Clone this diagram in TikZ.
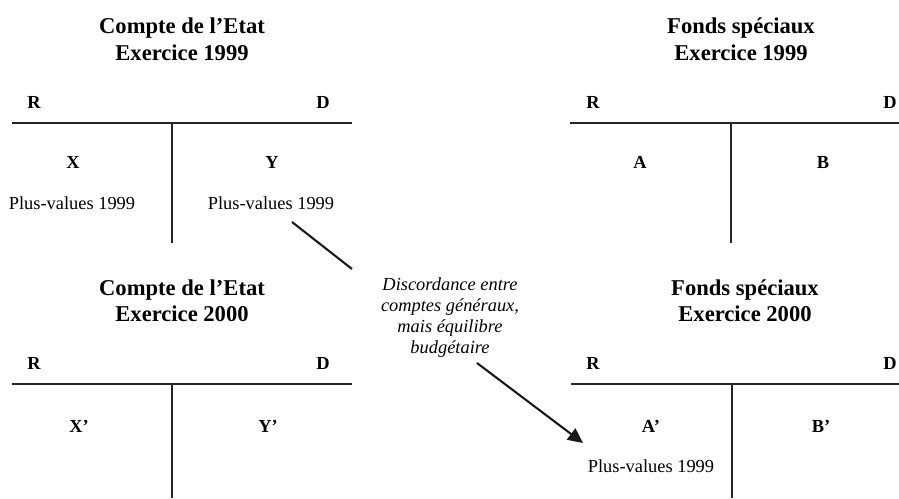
\documentclass[tikz,border=0pt]{standalone}
\usepackage{fontspec}
\setmainfont{Liberation Serif}
\usetikzlibrary{arrows.meta}
\tikzset{
  ttl/.style={anchor=base,inner sep=0pt,font=\fontsize{22.6}{26}\selectfont\bfseries},
  lab/.style={anchor=base,inner sep=0pt,font=\fontsize{18.4}{21}\selectfont\bfseries},
  txt/.style={anchor=base,inner sep=0pt,font=\fontsize{18.4}{21}\selectfont},
  itx/.style={anchor=base,inner sep=0pt,font=\fontsize{18.4}{21}\selectfont\itshape},
  rule/.style={line width=1.6pt,black!85},
  conn/.style={line width=2.1pt,black!90},
}
\begin{document}
\begin{tikzpicture}[x=1pt,y=-1pt]
\useasboundingbox (0,0) rectangle (899,498);
% ---- top left: Compte de l'Etat 1999
\node[ttl] (t1a) at (182,33) {Compte de l’Etat};
\node[ttl] (t1b) at (182,60) {Exercice 1999};
\node[lab] (r1) at (34,108) {R};
\node[lab] (d1) at (323,108) {D};
\draw[rule] (12,123) coordinate (h1a) -- (352,123) coordinate (h1b);
\draw[rule] (172,123) coordinate (v1a) -- (172,243) coordinate (v1b);
\node[lab] (x1) at (73,168) {X};
\node[lab] (y1) at (272,168) {Y};
\node[txt] (pv1) at (72,209) {Plus-values 1999};
\node[txt] (pv2) at (271,209) {Plus-values 1999};
% ---- top right: Fonds speciaux 1999
\node[ttl] (t2a) at (741,33) {Fonds spéciaux};
\node[ttl] (t2b) at (741,60) {Exercice 1999};
\node[lab] (r2) at (593,108) {R};
\node[lab] (d2) at (890,108) {D};
\draw[rule] (570,123) coordinate (h2a) -- (899,123) coordinate (h2b);
\draw[rule] (731,123) coordinate (v2a) -- (731,243) coordinate (v2b);
\node[lab] (a1) at (640,168) {A};
\node[lab] (b1) at (823,168) {B};
% ---- bottom left: Compte de l'Etat 2000
\node[ttl] (t3a) at (182,295) {Compte de l’Etat};
\node[ttl] (t3b) at (182,321) {Exercice 2000};
\node[lab] (r3) at (34,369) {R};
\node[lab] (d3) at (323,369) {D};
\draw[rule] (12,384) coordinate (h3a) -- (352,384) coordinate (h3b);
\draw[rule] (172,384) coordinate (v3a) -- (172,498) coordinate (v3b);
\node[lab] (x2) at (79,432) {X’};
\node[lab] (y2) at (268,432) {Y’};
% ---- bottom right: Fonds speciaux 2000
\node[ttl] (t4a) at (745,295) {Fonds spéciaux};
\node[ttl] (t4b) at (745,321) {Exercice 2000};
\node[lab] (r4) at (593,369) {R};
\node[lab] (d4) at (890,369) {D};
\draw[rule] (571,384) coordinate (h4a) -- (899,384) coordinate (h4b);
\draw[rule] (732,384) coordinate (v4a) -- (732,498) coordinate (v4b);
\node[lab] (a2) at (651,432) {A’};
\node[lab] (b2) at (821,432) {B’};
\node[txt] (pv3) at (651,472) {Plus-values 1999};
% ---- middle comment
\node[itx] (n1) at (450,290) {Discordance entre};
\node[itx] (n2) at (450,311) {comptes généraux,};
\node[itx] (n3) at (450,332) {mais équilibre};
\node[itx] (n4) at (450,353) {budgétaire};
\coordinate (c1s) at (292,222);
\coordinate (c1e) at (352,269);
\coordinate (c2s) at (477,363);
\coordinate (c2e) at (583,443);
\draw[conn] (c1s) -- (c1e);
\draw[conn,-{Triangle[length=15pt,width=14pt]}] (c2s) -- (c2e);
\end{tikzpicture}
\end{document}
